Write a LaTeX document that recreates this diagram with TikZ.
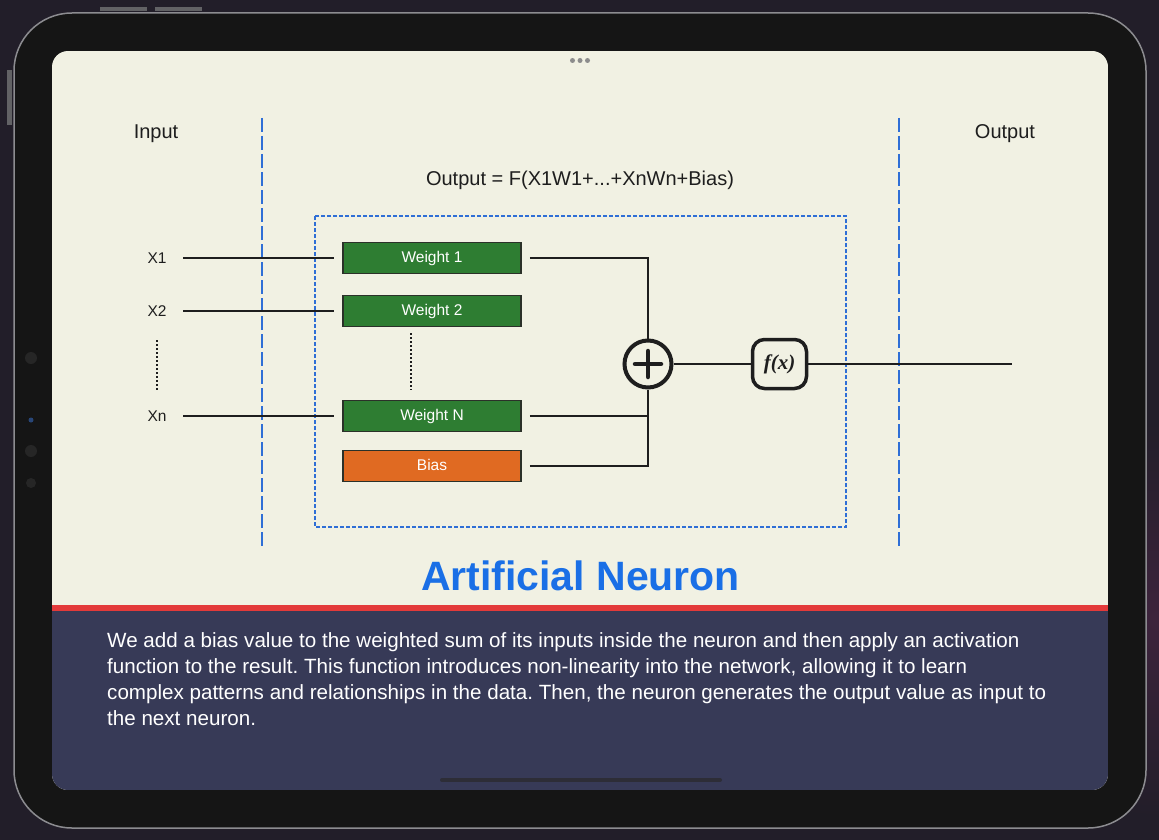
\documentclass[tikz,border=0pt]{standalone}
\usepackage{fontspec}
\setmainfont{Liberation Sans}
\newfontfamily\fxfont{Liberation Serif}
\usetikzlibrary{calc}
\frenchspacing
\definecolor{bgdark}{HTML}{221E29}
\definecolor{bgpurple}{HTML}{50284A}
\definecolor{bezel}{HTML}{151515}
\definecolor{rimgray}{HTML}{8C8C90}
\definecolor{cream}{HTML}{F1F1E3}
\definecolor{panel}{HTML}{373A57}
\definecolor{redline}{HTML}{E33A3A}
\definecolor{dashblue}{HTML}{2F6FD6}
\definecolor{titleblue}{HTML}{1A6FE6}
\definecolor{wgreen}{HTML}{2E7D32}
\definecolor{borange}{HTML}{E06A22}
\definecolor{boxedge}{HTML}{2B3129}
\definecolor{txt}{HTML}{1E1E1E}
\definecolor{camblue}{HTML}{284678}
\definecolor{homebar}{HTML}{2D2D37}
\tikzset{
  wbox/.style={draw=boxedge, line width=1.5pt, fill=wgreen, minimum width=178pt, minimum height=31pt, inner sep=0pt, text height=11pt, text depth=2pt, text=white, font=\fontsize{15.5}{18}\selectfont},
  bbox/.style={wbox, fill=borange},
  xlab/.style={minimum width=52pt, inner sep=0pt, text=txt, font=\fontsize{15.5}{18}\selectfont},
  wire/.style={draw=txt, line width=1.5pt},
  dotline/.style={draw=txt, line width=1.6pt, dash pattern=on 2pt off 2pt},
  vdash/.style={draw=dashblue, line width=1.8pt, dash pattern=on 14pt off 4pt},
  hlab/.style={text=txt, font=\fontsize{20}{23}\selectfont, inner sep=0pt}
}
\begin{document}
\begin{tikzpicture}[x=1pt,y=-1pt]
\useasboundingbox (0,0) rectangle (1159,840);
% background
\fill[bgdark] (0,0) rectangle (1159,840);
\shade[inner color=bgpurple, outer color=bgdark, opacity=0.6] (1159,620) circle (200);
% side buttons
\fill[rimgray!70!black] (100,7) rectangle (147,11);
\fill[rimgray!70!black] (155,7) rectangle (202,11);
\fill[rimgray!70!black] (7,70) rectangle (12,125);
% device body
\draw[rimgray, line width=1.5pt, fill=bezel, rounded corners=58pt] (14,13) rectangle (1146,828);
% camera area
\fill[black!85] (31,358) circle (6);
\fill[black!85] (31,451) circle (6);
\fill[black!85] (31,483) circle (5);
\fill[camblue] (31,420) circle (2.5);
% screen
\begin{scope}
\clip[rounded corners=16pt] (52,51) rectangle (1108,790);
\fill[cream] (52,51) rectangle (1108,790);
\fill[panel] (52,610) rectangle (1108,790);
\fill[redline] (52,604.5) rectangle (1108,610.5);
\end{scope}
% top dots
\foreach \dx in {-7.5,0,7.5} \fill[gray!90] (580+\dx,60.5) circle (2.5);
% home indicator
\draw[homebar, line width=4pt, line cap=round] (442,780) -- (720,780);

% header labels
\node[hlab] (inlab) at (156,134) {Input};
\node[hlab] (outlab) at (1005,134) {Output};
\node[hlab] (formula) at (580,180) {Output = F(X1W1+...+XnWn+Bias)};

% blue dashed separators
\coordinate (s1t) at (262,118); \coordinate (s1b) at (262,548);
\coordinate (s2t) at (899,118); \coordinate (s2b) at (899,548);
\draw[vdash] (s1t) -- (s1b);
\draw[vdash] (s2t) -- (s2b);

% dashed neuron box
\draw[draw=dashblue, line width=1.1pt, dash pattern=on 4pt off 2pt] (315,216) rectangle (846,527);

% inputs
\node[xlab] (x1) at (157,258) {X1};
\node[xlab] (x2) at (157,311) {X2};
\node[xlab] (xn) at (157,416) {Xn};
\draw[dotline] (157,340) -- (157,390);

% weights
\node[wbox] (w1) at (432,258) {Weight 1};
\node[wbox] (w2) at (432,311) {Weight 2};
\node[wbox] (wn) at (432,416) {Weight N};
\node[bbox] (bias) at (432,466) {Bias};
\draw[dotline] (411,333) -- (411,390);

\draw[wire, shorten >=8pt] (x1.east) -- (w1.west);
\draw[wire, shorten >=8pt] (x2.east) -- (w2.west);
\draw[wire, shorten >=8pt] (xn.east) -- (wn.west);

% summation
\node[circle, draw=txt, line width=4pt, minimum size=47pt, inner sep=0pt] (sum) at (648,364) {};
\draw[txt, line width=4.5pt, line cap=round] ([xshift=-13pt]sum.center) -- ([xshift=13pt]sum.center);
\draw[txt, line width=4.5pt, line cap=round] ([yshift=-13pt]sum.center) -- ([yshift=13pt]sum.center);

\draw[wire, shorten <=8pt] (w1.east) -- (w1.east -| sum.center) -- (sum.north);
\draw[wire, shorten <=8pt] (wn.east) -- (wn.east -| sum.center);
\draw[wire, shorten <=8pt] (bias.east) -- (bias.east -| sum.center) -- (sum.south);

% activation
\node[draw=txt, line width=3.5pt, rounded corners=12pt, minimum width=54pt, minimum height=49pt, inner sep=0pt, font=\fxfont\bfseries\itshape\fontsize{21}{22}\selectfont, text=txt] (fx) at (779.5,364) {f(x)};
\coordinate (outend) at (1012,364);
\draw[wire] (sum.east) -- (fx.west);
\draw[wire] (fx.east) -- (outend);

% title
\node[text=titleblue, font=\bfseries\fontsize{41}{46}\selectfont, inner sep=0pt] (title) at (580.5,576) {Artificial Neuron};

% paragraph
\node[anchor=north west, text=white, inner sep=0pt, align=left, font=\fontsize{20.6}{26}\selectfont] (para) at (107,632) {We add a bias value to the weighted sum of its inputs inside the neuron and then apply an activation\\function to the result. This function introduces non-linearity into the network, allowing it to learn\\complex patterns and relationships in the data. Then, the neuron generates the output value as input to\\the next neuron.};
\end{tikzpicture}
\end{document}
